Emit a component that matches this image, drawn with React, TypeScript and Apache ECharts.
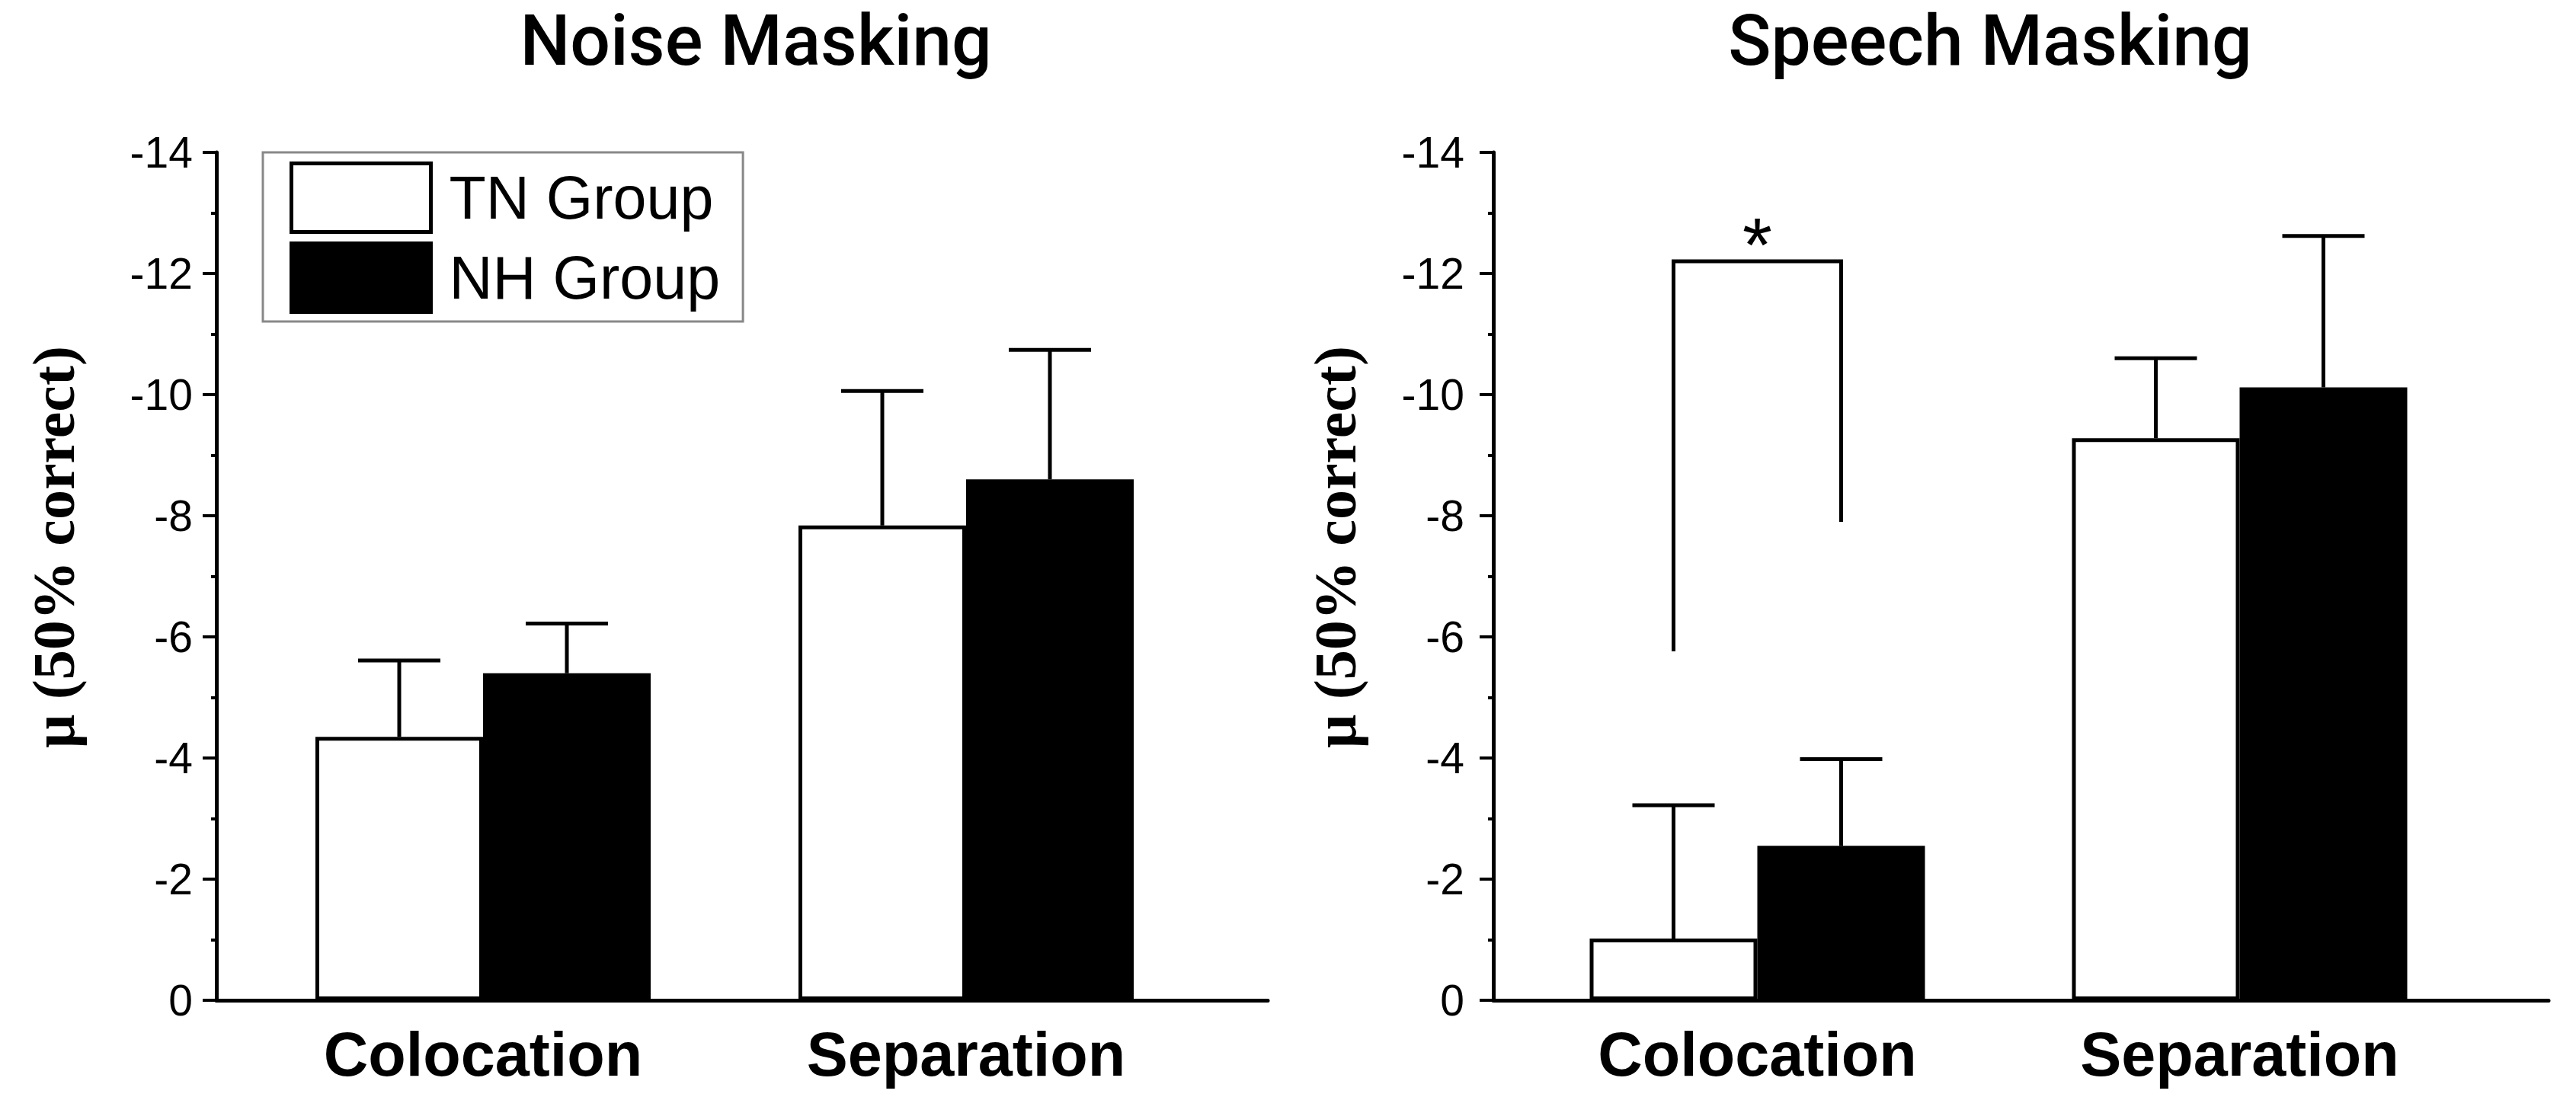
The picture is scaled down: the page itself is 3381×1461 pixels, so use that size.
import React, { useEffect, useRef } from "react";
import * as echarts from "echarts";

const categories = ["Colocation", "Separation"];
const groupNames = ["TN Group", "NH Group"];
const yTicksMin = -14;
const yTicksMax = 0;
const yTickStep = 2;

// Noise masking panel
const noiseTN = [-4.35, -7.84];
const noiseNH = [-5.4, -8.6];
const noiseTNErr = [1.26, 2.22];
const noiseNHErr = [0.82, 2.14];

// Speech masking panel
const speechTN = [-1.02, -9.28];
const speechNH = [-2.55, -10.12];
const speechTNErr = [2.2, 1.32];
const speechNHErr = [1.43, 2.5];

// significance bracket (Speech, Colocation): TN end, top, NH end
const bracketCategory = 0;
const bracketTNEnd = -5.76;
const bracketTop = -12.2;
const bracketNHEnd = -7.9;
const bracketMark = "*";

const panelTitles = ["Noise Masking", "Speech Masking"];
const yAxisName = "μ (50% correct)";

const BAR_W = 220;
const CAP_HALF = 54;
const LW = 5;
const SANS = "'Liberation Sans', Arial, sans-serif";
const SERIF = "'Liberation Serif', 'Times New Roman', serif";

function errorSeries(name: string, xi: number, means: number[], errs: number[], offset: number) {
  return {
    type: "custom",
    name,
    xAxisIndex: xi,
    yAxisIndex: xi,
    z: 5,
    silent: true,
    data: means.map((m, i) => [i, m, m - errs[i]]),
    renderItem: (params: any, api: any) => {
      const base = api.coord([api.value(0), api.value(1)]);
      const tip = api.coord([api.value(0), api.value(2)]);
      const x = base[0] + offset;
      return {
        type: "group",
        children: [
          { type: "line", shape: { x1: x, y1: base[1], x2: x, y2: tip[1] }, style: { stroke: "#000", lineWidth: LW } },
          { type: "line", shape: { x1: x - CAP_HALF, y1: tip[1], x2: x + CAP_HALF, y2: tip[1] }, style: { stroke: "#000", lineWidth: LW } },
        ],
      };
    },
  };
}

function barSeries(name: string, xi: number, values: number[], fill: string) {
  return {
    type: "bar",
    name,
    xAxisIndex: xi,
    yAxisIndex: xi,
    barWidth: BAR_W,
    barGap: "0%",
    z: 2,
    data: values,
    itemStyle: { color: fill, borderColor: "#000", borderWidth: LW },
  };
}

export default function App() {
  const ref = useRef<HTMLDivElement>(null);
  useEffect(() => {
    if (!ref.current) return;
    const chart = echarts.init(ref.current, null, { renderer: "svg" });

    const frameY = (gi: number, labelMargin: number) => ({
      type: "value",
      gridIndex: gi,
      min: yTicksMin,
      max: yTicksMax,
      interval: yTickStep,
      inverse: true,
      axisLine: { show: true, lineStyle: { color: "#000", width: LW } },
      axisTick: { show: true, length: 18, lineStyle: { color: "#000", width: 4 } },
      minorTick: { show: true, splitNumber: 2, length: 7, lineStyle: { color: "#000", width: 4 } },
      axisLabel: { margin: labelMargin, color: "#000", fontSize: 57, fontFamily: SANS },
      splitLine: { show: false },
    });
    const hiddenY = (gi: number) => ({
      type: "value",
      gridIndex: gi,
      min: yTicksMin,
      max: yTicksMax,
      inverse: true,
      show: false,
      splitLine: { show: false },
    });
    const catX = (gi: number) => ({
      type: "category",
      gridIndex: gi,
      data: categories,
      axisLine: { show: false },
      axisTick: { show: false },
      axisLabel: { margin: 30, color: "#000", fontSize: 81, fontWeight: "bold", fontFamily: SANS },
    });
    const frameX = (gi: number) => ({
      type: "value",
      gridIndex: gi,
      min: 0,
      max: 1,
      axisLine: { show: true, onZero: false, lineStyle: { color: "#000", width: LW } },
      axisTick: { show: false },
      axisLabel: { show: false },
      splitLine: { show: false },
    });

    const bracket = {
      type: "custom",
      name: "bracket",
      xAxisIndex: 2,
      yAxisIndex: 2,
      z: 6,
      silent: true,
      data: [[bracketCategory, bracketTNEnd, bracketTop, bracketNHEnd]],
      renderItem: (params: any, api: any) => {
        const c = api.value(0);
        const pL = api.coord([c, api.value(1)]);
        const pT = api.coord([c, api.value(2)]);
        const pR = api.coord([c, api.value(3)]);
        const xl = pL[0] - BAR_W / 2;
        const xr = pL[0] + BAR_W / 2;
        return {
          type: "group",
          children: [
            {
              type: "polyline",
              shape: { points: [[xl, pL[1]], [xl, pT[1]], [xr, pT[1]], [xr, pR[1]]] },
              style: { stroke: "#000", lineWidth: LW, fill: "none" },
            },
            {
              type: "text",
              x: (xl + xr) / 2,
              y: pT[1] - 22,
              style: { text: bracketMark, fontSize: 100, lineHeight: 100, fontFamily: SANS, fill: "#000", align: "center", verticalAlign: "middle" },
            },
          ],
        };
      },
    };

    const titleStyle = { fontSize: 93, lineHeight: 93, fontWeight: 500, fontFamily: "Roboto, sans-serif", fill: "#000", align: "center", verticalAlign: "middle" };
    const nameStyle = { fontSize: 78, lineHeight: 78, fontWeight: "bold", fontFamily: SERIF, fill: "#000", align: "center", verticalAlign: "middle" };

    chart.setOption({
      animation: false,
      backgroundColor: "#fff",
      grid: [
        { left: 317, top: 200, width: 1268, height: 1113 },
        { left: 284, top: 200, width: 1380, height: 1113 },
        { left: 1990, top: 200, width: 1266, height: 1113 },
        { left: 1960, top: 200, width: 1385, height: 1113 },
      ],
      xAxis: [catX(0), frameX(1), catX(2), frameX(3)],
      yAxis: [hiddenY(0), frameY(1, 31), hiddenY(2), frameY(3, 38)],
      legend: {
        data: groupNames,
        orient: "vertical",
        left: 345,
        top: 200,
        padding: [12, 30, 10, 35],
        itemWidth: 183,
        itemHeight: 90,
        itemGap: 10,
        icon: "rect",
        backgroundColor: "#fff",
        borderColor: "#888",
        borderWidth: 3,
        itemStyle: { borderWidth: LW, borderColor: "#000" },
        textStyle: { fontSize: 79, fontFamily: SANS, color: "#000", padding: [0, 0, 0, 19] },
        selectedMode: false,
      },
      graphic: [
        { type: "text", x: 992, y: 53, style: { text: panelTitles[0], ...titleStyle } },
        { type: "text", x: 2612, y: 53, style: { text: panelTitles[1], ...titleStyle } },
        { type: "text", x: 70, y: 718, rotation: Math.PI / 2, style: { text: yAxisName, ...nameStyle } },
        { type: "text", x: 1752, y: 718, rotation: Math.PI / 2, style: { text: yAxisName, ...nameStyle } },
      ],
      series: [
        barSeries(groupNames[0], 0, noiseTN, "#fff"),
        barSeries(groupNames[1], 0, noiseNH, "#000"),
        errorSeries("noiseTNErr", 0, noiseTN, noiseTNErr, -BAR_W / 2),
        errorSeries("noiseNHErr", 0, noiseNH, noiseNHErr, BAR_W / 2),
        barSeries(groupNames[0], 2, speechTN, "#fff"),
        barSeries(groupNames[1], 2, speechNH, "#000"),
        errorSeries("speechTNErr", 2, speechTN, speechTNErr, -BAR_W / 2),
        errorSeries("speechNHErr", 2, speechNH, speechNHErr, BAR_W / 2),
        bracket,
      ],
    });
    return () => chart.dispose();
  }, []);
  return <div ref={ref} style={{ position: "absolute", left: 0, top: 0, width: 3381, height: 1461 }} />;
}
